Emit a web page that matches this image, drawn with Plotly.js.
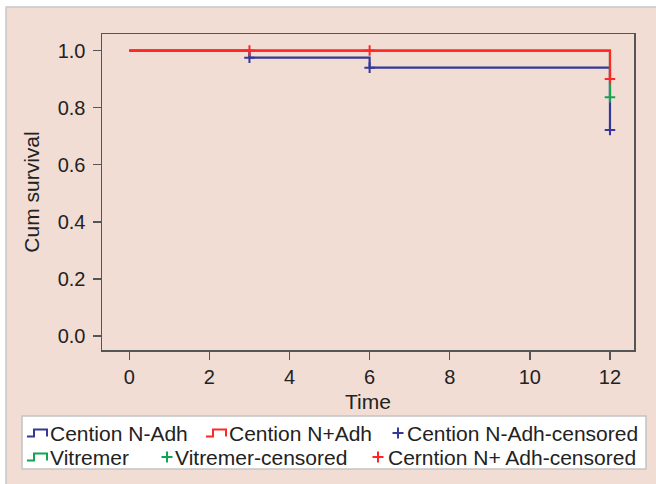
<!DOCTYPE html>
<html>
<head>
<meta charset="utf-8">
<script src="https://cdn.plot.ly/plotly-3.0.1.min.js"></script>
<style>html,body{margin:0;padding:0;background:#fff;}#chart{width:656px;height:484px;}</style>
</head>
<body>
<div id="chart"></div>
<script>
// ---- data ----
var cnmTime = [0, 3, 6, 12];
var cnmSurv = [1.0, 0.975, 0.94, 0.722];
var cnpTime = [0, 12];
var cnpSurv = [1.0, 0.90];
var vitTime = [0, 12];
var vitSurv = [1.0, 0.836];
var cnmCensTime = [3, 6, 12];
var cnmCensSurv = [0.975, 0.94, 0.722];
var vitCensTime = [12];
var vitCensSurv = [0.836];
var cnpCensTime = [3, 6, 12];
var cnpCensSurv = [1.0, 1.0, 0.90];
var xTicks = [0, 2, 4, 6, 8, 10, 12];
var yTicks = [0.0, 0.2, 0.4, 0.6, 0.8, 1.0];
var legendLabels = ["Cention N-Adh", "Cention N+Adh", "Cention N-Adh-censored",
                    "Vitremer", "Vitremer-censored", "Cerntion N+ Adh-censored"];

var BLUE = '#343896', RED = '#ff2626', GREEN = '#14a352';
var FONT = 'Arial, "Liberation Sans", Helvetica, sans-serif';

// geometry helpers (pixel -> paper)
var W = 656, H = 484, ML = 102, MR = 22, MT = 34, MB = 134;
var PW = W - ML - MR, PH = H - MT - MB;
function px(x) { return (x - ML) / PW; }
function py(y) { return (H - MB - y) / PH; }

function stepLine(name, t, s, color) {
  return {type: 'scatter', mode: 'lines', name: name, x: t, y: s,
          line: {shape: 'hv', color: color, width: 2.2}, hoverinfo: 'skip'};
}
function cens(name, t, s, color) {
  return {type: 'scatter', mode: 'markers', name: name, x: t, y: s, cliponaxis: false,
          marker: {symbol: 'cross-thin-open', size: 7.5, color: color, line: {color: color, width: 2}},
          hoverinfo: 'skip'};
}

var data = [
  stepLine(legendLabels[0], cnmTime, cnmSurv, BLUE),
  stepLine(legendLabels[3], vitTime, vitSurv, GREEN),
  stepLine(legendLabels[1], cnpTime, cnpSurv, RED),
  cens(legendLabels[2], cnmCensTime, cnmCensSurv, BLUE),
  cens(legendLabels[4], vitCensTime, vitCensSurv, GREEN),
  cens(legendLabels[5], cnpCensTime, cnpCensSurv, RED)
];

// manual legend
var shapes = [
  {type: 'rect', xref: 'paper', yref: 'paper', layer: 'below',
   x0: px(6), x1: px(700), y0: py(7), y1: py(520),
   fillcolor: '#f1ddd4', line: {color: '#c8c8c8', width: 1.5}},
  {type: 'rect', xref: 'paper', yref: 'paper',
   x0: px(22), x1: px(646), y0: py(416), y1: py(469),
   fillcolor: '#ffffff', line: {color: '#c4c4c4', width: 1.5}}
];
function stepIcon(x, yc, color) {
  var yl = yc + 3.5, yh = yc - 3.5;
  shapes.push({type: 'path', xref: 'paper', yref: 'paper',
    path: 'M' + px(x) + ',' + py(yl) + ' L' + px(x + 7) + ',' + py(yl) + ' L' + px(x + 7) + ',' + py(yh) +
          ' L' + px(x + 20) + ',' + py(yh) + ' L' + px(x + 20) + ',' + py(yl),
    line: {color: color, width: 2}});
}
function plusIcon(x, yc, color) {
  var r = 5.5;
  shapes.push({type: 'path', xref: 'paper', yref: 'paper',
    path: 'M' + px(x - r) + ',' + py(yc) + ' L' + px(x + r) + ',' + py(yc) +
          ' M' + px(x) + ',' + py(yc - r) + ' L' + px(x) + ',' + py(yc + r),
    line: {color: color, width: 2}});
}
var row1 = 433, row2 = 457;
stepIcon(27, row1, BLUE);
stepIcon(206, row1, RED);
plusIcon(398, row1, BLUE);
stepIcon(27, row2, GREEN);
plusIcon(167, row2, GREEN);
plusIcon(378, row2, RED);

var annotations = [];
function label(text, x, yc) {
  annotations.push({xref: 'paper', yref: 'paper', x: px(x), y: py(yc), xanchor: 'left', yanchor: 'middle',
    text: text, showarrow: false, borderpad: 0, font: {family: FONT, size: 21, color: '#222222'}});
}
label(legendLabels[0], 49, row1);
label(legendLabels[1], 228, row1);
label(legendLabels[2], 406, row1);
label(legendLabels[3], 49, row2);
label(legendLabels[4], 174, row2);
label(legendLabels[5], 387, row2);

var axisCommon = {
  showgrid: false, zeroline: false, showline: true, mirror: true,
  linecolor: '#555555', linewidth: 1.5,
  ticks: 'outside', ticklen: 8, tickwidth: 1.5, tickcolor: '#555555',
  tickfont: {family: FONT, size: 20, color: '#222222'}
};

var layout = {
  width: W, height: H,
  margin: {l: ML, r: MR, t: MT, b: MB, pad: 0},
  paper_bgcolor: '#ffffff', plot_bgcolor: '#ffffff',
  showlegend: false,
  xaxis: Object.assign({}, axisCommon, {
    range: [-0.681, 12.6], tickvals: xTicks, ticktext: xTicks.map(String),
    title: {text: 'Time', font: {family: FONT, size: 21, color: '#222222'}, standoff: 8}
  }),
  yaxis: Object.assign({}, axisCommon, {
    range: [-0.049, 1.058], tickvals: yTicks, ticktext: yTicks.map(function (v) { return v.toFixed(1); }),
    ticklabelstandoff: 3,
    title: {text: 'Cum survival', font: {family: FONT, size: 21, color: '#222222'}, standoff: 12}
  }),
  shapes: shapes,
  annotations: annotations
};

Plotly.newPlot('chart', data, layout, {displayModeBar: false, staticPlot: true});
</script>
</body>
</html>
